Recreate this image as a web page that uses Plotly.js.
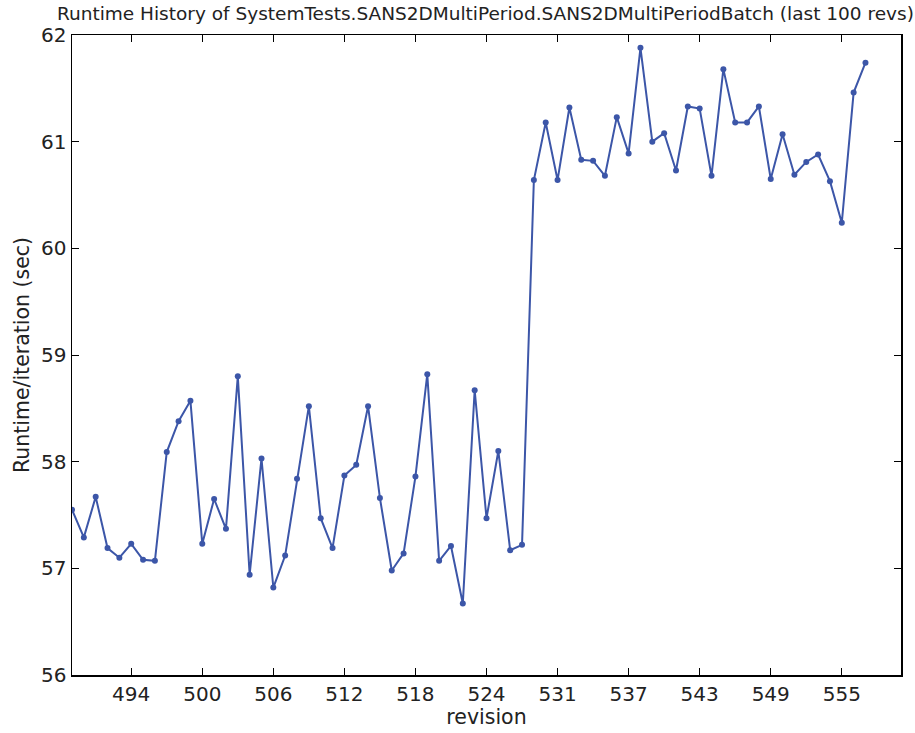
<!DOCTYPE html>
<html>
<head>
<meta charset="utf-8">
<script src="https://cdn.plot.ly/plotly-3.0.1.min.js"></script>
<style>html,body{margin:0;padding:0;background:#fff;}#chart{width:915px;height:733px;}</style>
</head>
<body>
<div id="chart"></div>
<script>
const runtimes = [
  57.55, 57.29, 57.67, 57.19, 57.10, 57.23, 57.08, 57.07, 58.09, 58.38,
  58.57, 57.23, 57.65, 57.37, 58.80, 56.94, 58.03, 56.82, 57.12, 57.84,
  58.52, 57.47, 57.19, 57.87, 57.97, 58.52, 57.66, 56.98, 57.14, 57.86,
  58.82, 57.07, 57.21, 56.67, 58.67, 57.47, 58.10, 57.17, 57.22, 60.64,
  61.18, 60.64, 61.32, 60.83, 60.82, 60.68, 61.23, 60.89, 61.88, 61.00,
  61.08, 60.73, 61.33, 61.31, 60.68, 61.68, 61.18, 61.18, 61.33, 60.65,
  61.07, 60.69, 60.81, 60.88, 60.63, 60.24, 61.46, 61.74
];
const pointIndex = runtimes.map((v, i) => i);
const tickIndex = [5, 11, 17, 23, 29, 35, 41, 47, 53, 59, 65];
const tickLabels = ["494", "500", "506", "512", "518", "524", "531", "537", "543", "549", "555"];
const yTicks = [56, 57, 58, 59, 60, 61, 62];

const font = "DejaVu Sans, sans-serif";
const trace = {
  x: pointIndex,
  y: runtimes,
  type: "scatter",
  mode: "lines+markers",
  line: {color: "#3c56a8", width: 2},
  marker: {color: "#3c56a8", size: 6},
  hoverinfo: "none"
};
const axisCommon = {
  showgrid: false,
  zeroline: false,
  showline: true,
  linecolor: "#000",
  linewidth: 1.5,
  mirror: "ticks",
  ticks: "inside",
  ticklen: 7,
  tickwidth: 1,
  tickcolor: "#000",
  automargin: false,
  tickfont: {family: font, size: 20, color: "#222"}
};
const layout = {
  width: 915, height: 733,
  margin: {l: 72, r: 14, t: 35, b: 58},
  paper_bgcolor: "#fff", plot_bgcolor: "#fff",
  showlegend: false,
  title: {
    text: "Runtime History of SystemTests.SANS2DMultiPeriod.SANS2DMultiPeriodBatch (last 100 revs)",
    font: {family: font, size: 18.5, color: "#222"},
    x: 0.5305, xanchor: "center", xref: "container",
    y: 0.981, yanchor: "middle", yref: "container"
  },
  xaxis: Object.assign({}, axisCommon, {
    range: [0, 70],
    tickmode: "array", tickvals: tickIndex, ticktext: tickLabels,
    title: {text: "revision", font: {family: font, size: 20.5, color: "#222"}, standoff: 2}
  }),
  yaxis: Object.assign({}, axisCommon, {
    range: [56, 62],
    tickmode: "array", tickvals: yTicks, ticktext: yTicks.map(String),
    title: {text: "Runtime/iteration (sec)", font: {family: font, size: 20.5, color: "#222"}, standoff: 6}
  })
};
Plotly.newPlot("chart", [trace], layout, {displayModeBar: false, staticPlot: true});
</script>
</body>
</html>
